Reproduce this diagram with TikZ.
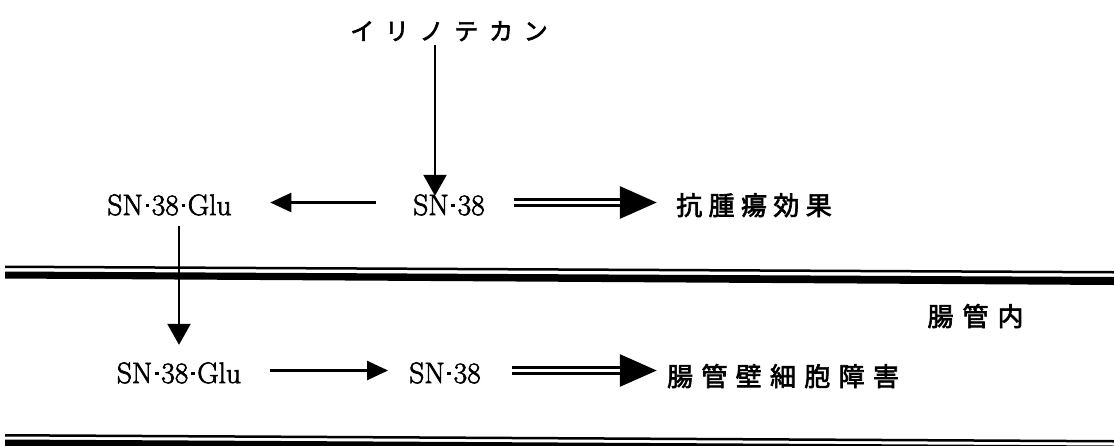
\documentclass[tikz,border=0pt]{standalone}
\usepackage{fontspec}
\newfontfamily\jp[FakeBold=2.5]{Noto Sans CJK JP}
\newfontfamily\lat[FakeBold=2.2]{Latin Modern Roman}
\usetikzlibrary{arrows.meta}
\makeatletter
\def\pc@loop#1{\ifx#1\relax\else\makebox[\pc@w]{#1}\expandafter\pc@loop\fi}
\newcommand\pitched[2]{\def\pc@w{#1}\pc@loop#2\relax}
\makeatother
\newcommand\mdot{\kern.09em\rule[.27em]{.12em}{.12em}\kern.09em}
\tikzset{
  lat/.style={font=\lat\fontsize{29.5}{34}\selectfont, inner sep=0pt, text height=25pt, text depth=0pt, anchor=base},
  jpt/.style={font=\jp\fontsize{26}{30}\selectfont, inner sep=0pt, text height=25pt, text depth=0pt, anchor=base},
  arr/.style={line width=2.4pt, -{Triangle[length=21pt,width=19pt]}},
  varr/.style={line width=2.4pt, -{Triangle[length=21pt,width=23pt]}},
  dblbase/.style={line width=3pt, -{Triangle[length=37pt,width=32pt]}},
  dblline/.style={line width=3pt, double=white, double distance=3pt},
}
\begin{document}
\begin{tikzpicture}[x=1pt,y=-1pt]
\useasboundingbox (0,0) rectangle (1114,445);
\clip (0,0) rectangle (1114,445);
\fill[white] (0,0) rectangle (1114,445);
% texts
\node[jpt, font=\jp\fontsize{24}{28}\selectfont] (title) at (449,40) {\pitched{34.7pt}{イリノテカン}};
\node[lat] (glu1) at (169.5,215) {SN\mdot38\mdot Glu};
\node[lat] (sn1) at (449,215) {SN\mdot38};
\node[jpt] (koka) at (754,215) {\pitched{32.4pt}{抗腫瘍効果}};
\node[jpt] (naikan) at (975.5,326) {\pitched{35pt}{腸管内}};
\node[lat] (glu2) at (179,383) {SN\mdot38\mdot Glu};
\node[lat] (sn2) at (445,383) {SN\mdot38};
\node[jpt] (shogai) at (783,386) {\pitched{34.3pt}{腸管壁細胞障害}};
% arrows
\draw[varr, shorten <=5pt, shorten >=-6pt] ([xshift=-14pt]title.south) -- ([xshift=-14pt]title.south |- sn1.north);
\draw[arr, shorten <=37pt, shorten >=38.5pt] (sn1.west) -- (sn1.west -| glu1.east);
\draw[dblbase, shorten <=29pt, shorten >=16pt] (sn1.east) -- (sn1.east -| koka.west);
\draw[dblline, shorten <=29pt, shorten >=53pt] (sn1.east) -- (sn1.east -| koka.west);
\draw[varr, shorten <=11pt, shorten >=13pt] (glu1.south -| glu2.north) -- (glu2.north);
\draw[arr, shorten <=29pt, shorten >=21pt] (glu2.east) -- (glu2.east -| sn2.west);
\draw[dblbase, shorten <=31pt, shorten >=6pt] (sn2.east) -- (sn2.east -| shogai.west);
\draw[dblline, shorten <=31pt, shorten >=43pt] (sn2.east) -- (sn2.east -| shogai.west);
% boundary lines
\fill (5,265.5) -- (1114,271) -- (1114,273.5) -- (5,268) -- cycle;
\fill (5,271.5) -- (1114,277) -- (1114,285) -- (5,278.5) -- cycle;
\fill (5,434) -- (1114,440) -- (1114,442.5) -- (5,436.5) -- cycle;
\fill (5,439.5) -- (1114,445.5) -- (1114,452) -- (5,447) -- cycle;
\end{tikzpicture}
\end{document}
